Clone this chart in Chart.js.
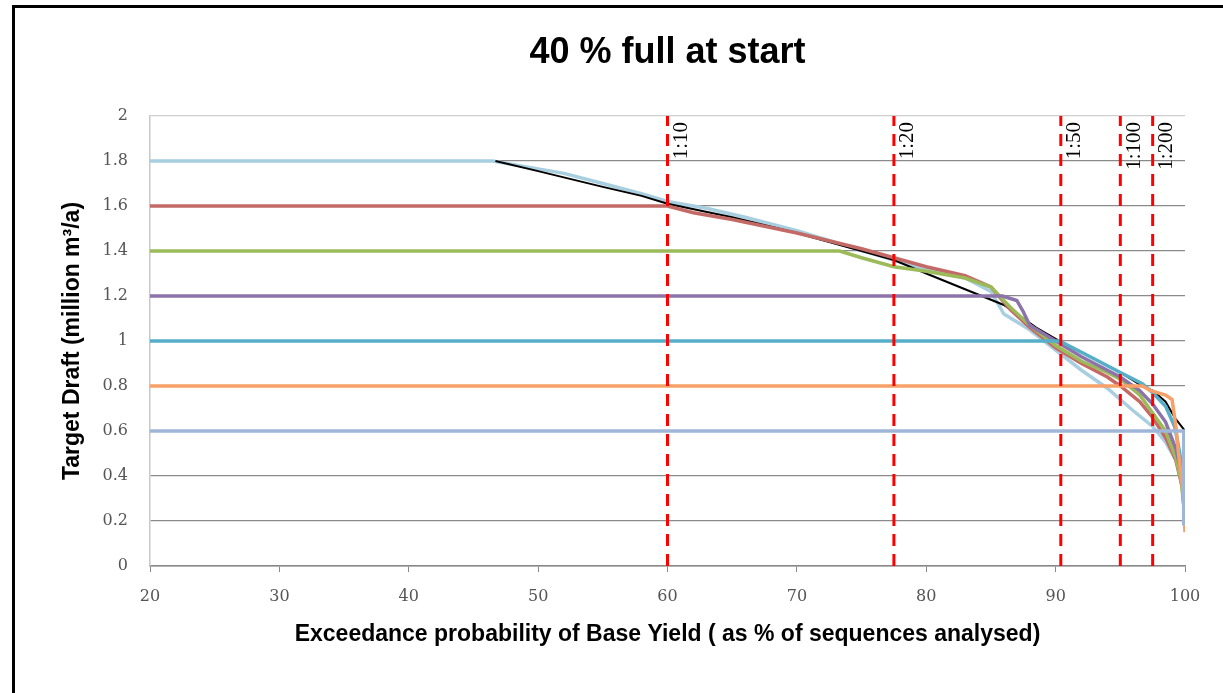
<!DOCTYPE html>
<html>
<head>
<meta charset="utf-8">
<script src="https://cdn.jsdelivr.net/npm/chart.js@4.4.1/dist/chart.umd.min.js"></script>
<style>
  html, body { margin: 0; padding: 0; background: #fff; }
  #wrap { position: relative; width: 1223px; height: 693px; }
</style>
</head>
<body>
<div id="wrap"><canvas id="yieldChart" width="1223" height="693"></canvas></div>
<script>
// Exceedance probability (%) / target draft (million m3/a) per series
const chartTitle = '40 % full at start';

const x18 = [20, 46.5, 50, 52, 55, 58, 60, 63, 66, 70, 74, 77.5, 80, 83, 85, 86, 88, 90, 92, 94, 95, 96, 97.5, 98.5, 99.3, 99.8, 100];
const y18 = [1.8, 1.8, 1.765, 1.745, 1.70, 1.655, 1.62, 1.59, 1.55, 1.49, 1.42, 1.36, 1.32, 1.28, 1.22, 1.12, 1.05, 0.96, 0.87, 0.79, 0.74, 0.69, 0.62, 0.55, 0.47, 0.35, 0.2];

const x16 = [20, 60, 62, 65, 70, 75, 77.5, 80, 83, 85, 86.5, 88, 90, 92, 94, 95, 96.5, 97.5, 98.5, 99.3, 99.8, 100];
const y16 = [1.6, 1.6, 1.57, 1.54, 1.48, 1.41, 1.37, 1.33, 1.29, 1.24, 1.14, 1.06, 0.97, 0.90, 0.84, 0.80, 0.73, 0.66, 0.57, 0.47, 0.35, 0.2];

const x14 = [20, 73.3, 75, 77.5, 80, 83, 85, 86.5, 88, 90, 92, 94, 95, 96.5, 97.5, 98.5, 99.3, 99.7, 100];
const y14 = [1.4, 1.4, 1.37, 1.33, 1.31, 1.28, 1.24, 1.15, 1.07, 0.98, 0.91, 0.86, 0.83, 0.76, 0.68, 0.60, 0.48, 0.38, 0.22];

const x12 = [20, 85.9, 87, 87.5, 88, 90, 92, 94, 95, 96.5, 97.5, 98.5, 99.3, 99.7, 100];
const y12 = [1.2, 1.2, 1.18, 1.13, 1.07, 1.0, 0.93, 0.87, 0.84, 0.78, 0.72, 0.64, 0.52, 0.42, 0.25];

const x10 = [20, 90.3, 92, 94, 95, 96.7, 97.5, 98.5, 99.2, 99.6, 100];
const y10 = [1.0, 1.0, 0.95, 0.89, 0.86, 0.81, 0.77, 0.71, 0.62, 0.5, 0.3];

const x08 = [20, 96.7, 97.3, 98.5, 99.0, 99.3, 99.5, 99.9, 100];
const y08 = [0.8, 0.8, 0.78, 0.76, 0.74, 0.62, 0.5, 0.3, 0.15];

const x06 = [20, 99.9, 99.9];
const y06 = [0.6, 0.6, 0.18];

const xEnv = [46.7, 50, 55, 58, 60, 65, 70, 75, 77.5, 80, 83, 86, 88.5, 90.6, 92, 94, 95, 96.7, 97.5, 98.5, 99.2, 100];
const yEnv = [1.8, 1.755, 1.685, 1.645, 1.61, 1.55, 1.48, 1.40, 1.36, 1.30, 1.23, 1.16, 1.06, 0.99, 0.95, 0.89, 0.86, 0.80, 0.78, 0.73, 0.66, 0.60];

const returnPeriods = ['1:10', '1:20', '1:50', '1:100', '1:200'];
const returnPeriodX = [60, 77.5, 90.4, 95, 97.5];

const toPoints = (xs, ys) => xs.map((x, i) => ({ x: x, y: ys[i] }));

function curve(label, xs, ys, color, order, width) {
    return {
        label: label,
        data: toPoints(xs, ys),
        borderColor: color,
        backgroundColor: color,
        borderWidth: width || 3.5,
        pointRadius: 0,
        showLine: true,
        tension: 0,
        order: order
    };
}

const datasets = [
    curve('1.8', x18, y18, '#A8CFE0', 9),
    curve('Envelope', xEnv, yEnv, '#000000', 8, 2),
    curve('1.6', x16, y16, '#C46A66', 7),
    curve('1.4', x14, y14, '#9BBB59', 6),
    curve('1.2', x12, y12, '#8C74AA', 5),
    curve('1.0', x10, y10, '#56AFC8', 4),
    curve('0.8', x08, y08, '#F7A067', 3),
    curve('0.6', x06, y06, '#A0B6D8', 2)
];

returnPeriodX.forEach((x, i) => {
    datasets.push({
        label: returnPeriods[i],
        data: [{ x: x, y: 0 }, { x: x, y: 2 }],
        borderColor: '#FF0000',
        borderWidth: 3,
        borderDash: [12, 8],
        pointRadius: 0,
        showLine: true,
        order: 1
    });
});

// title over the plot, rotated return period labels, outer frame
const extras = {
    id: 'extras',
    afterDatasetsDraw(chart) {
        const { ctx, scales, chartArea } = chart;
        ctx.save();
        ctx.fillStyle = '#000';
        ctx.textAlign = 'center';
        ctx.textBaseline = 'middle';
        ctx.font = 'bold 36px "Liberation Sans"';
        ctx.fillText(chartTitle, (chartArea.left + chartArea.right) / 2, 53);

        ctx.font = '21px "Liberation Serif"';
        ctx.textAlign = 'right';
        returnPeriodX.forEach((x, i) => {
            const px = scales.x.getPixelForValue(x);
            ctx.save();
            ctx.translate(px + 14, scales.y.getPixelForValue(2) + 6);
            ctx.rotate(-Math.PI / 2);
            ctx.fillText(returnPeriods[i], 0, 0);
            ctx.restore();
        });
        ctx.fillRect(12, 5, 1211, 3);
        ctx.fillRect(12, 5, 3, 688);
        ctx.restore();
    }
};

new Chart(document.getElementById('yieldChart'), {
    type: 'scatter',
    data: { datasets: datasets },
    options: {
        responsive: false,
        animation: false,
        layout: { padding: { left: 0, right: 38, top: 116, bottom: 0 } },
        plugins: {
            legend: { display: false },
            tooltip: { enabled: false },
            title: { display: false }
        },
        scales: {
            x: {
                type: 'linear',
                min: 20,
                max: 100,
                afterFit: (s) => { s.height = 127; },
                border: { color: '#888', width: 1.5 },
                grid: { drawOnChartArea: false, drawTicks: true, tickLength: 6, color: '#888' },
                ticks: { stepSize: 10, padding: 15, color: '#555', font: { family: '"DejaVu Serif"', size: 16 } },
                title: {
                    display: true,
                    text: 'Exceedance probability of Base Yield ( as % of sequences analysed)',
                    color: '#000',
                    font: { family: '"Liberation Sans"', size: 23, weight: 'bold' },
                    padding: { top: 0, bottom: 45 }
                }
            },
            y: {
                min: 0,
                max: 2,
                afterFit: (s) => { s.width = 150; },
                border: { color: '#c8c8c8', width: 1.5 },
                grid: { drawTicks: false, color: (c) => c.tick.value === 2 ? '#cfcfcf' : '#8a8a8a', lineWidth: 1.3 },
                ticks: {
                    stepSize: 0.2,
                    padding: 22,
                    color: '#555',
                    font: { family: '"DejaVu Serif"', size: 16 },
                    callback: (v) => Math.round(v * 10) / 10
                },
                title: {
                    display: true,
                    text: 'Target Draft (million m³/a)',
                    color: '#000',
                    font: { family: '"Liberation Sans"', size: 23, weight: 'bold' },
                    padding: { top: 59, bottom: 0 }
                }
            }
        }
    },
    plugins: [extras]
});
</script>
</body>
</html>
